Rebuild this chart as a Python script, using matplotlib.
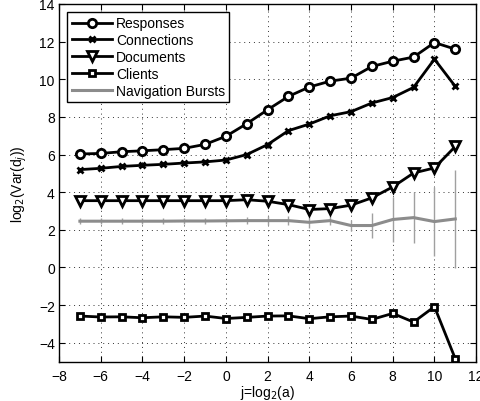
import matplotlib
matplotlib.use('Agg')
import matplotlib.pyplot as plt

plt.rcParams['font.family'] = ['Liberation Sans', 'DejaVu Sans']

# octaves j
j = list(range(-7, 12))

responses = [6.03, 6.06, 6.15, 6.2, 6.26, 6.33, 6.54, 6.97, 7.64, 8.38, 9.09,
             9.59, 9.9, 10.06, 10.68, 10.96, 11.18, 11.95, 11.6]
connections = [5.2, 5.27, 5.37, 5.43, 5.48, 5.55, 5.61, 5.71, 6.0, 6.53, 7.27,
               7.62, 8.06, 8.28, 8.74, 9.03, 9.57, 11.07, 9.62]
documents = [3.55, 3.55, 3.55, 3.55, 3.55, 3.55, 3.55, 3.55, 3.6, 3.52, 3.34,
             3.08, 3.13, 3.31, 3.7, 4.28, 5.02, 5.29, 6.43]
clients = [-2.58, -2.63, -2.62, -2.67, -2.62, -2.65, -2.58, -2.71, -2.65, -2.58,
           -2.57, -2.72, -2.62, -2.58, -2.76, -2.44, -2.9, -2.08, -4.85]
bursts = [2.46, 2.46, 2.46, 2.46, 2.46, 2.47, 2.47, 2.48, 2.49, 2.49, 2.49,
          2.4, 2.49, 2.23, 2.23, 2.55, 2.65, 2.44, 2.58]
bursts_err = [0.15, 0.15, 0.15, 0.15, 0.15, 0.15, 0.15, 0.15, 0.2, 0.25, 0.25,
              0.3, 0.25, 0.3, 0.65, 1.2, 1.35, 1.85, 2.62]

fig = plt.figure(figsize=(4.8, 4.02), dpi=100)
ax = fig.add_axes([0.123, 0.098, 0.869, 0.8896])

lw = 2.0
ax.plot(j, responses, '-o', color='k', lw=lw, ms=6, mew=2, mfc='white',
        label='Responses', zorder=4)
ax.plot(j, connections, '-x', color='k', lw=lw, ms=4.5, mew=2,
        label='Connections', zorder=4)
ax.plot(j, documents, '-v', color='k', lw=lw, ms=7, mew=2, mfc='white',
        label='Documents', zorder=4)
ax.plot(j, clients, '-s', color='k', lw=lw, ms=5, mew=2, mfc='white',
        label='Clients', zorder=4)
ax.errorbar(j, bursts, yerr=bursts_err, fmt='none', ecolor='#a0a0a0',
            elinewidth=1.0, capsize=0, zorder=2)
ax.plot(j, bursts, '-', color='#8c8c8c', lw=2.2, label='Navigation Bursts', zorder=3)

ax.set_xlim(-8, 12)
ax.set_ylim(-5, 14)
ax.set_xticks(range(-8, 13, 2))
ax.set_yticks(range(-4, 15, 2))
ax.set_xticklabels([str(v).replace('-', '\u2212') for v in range(-8, 13, 2)])
ax.set_yticklabels([str(v).replace('-', '\u2212') for v in range(-4, 15, 2)])
ax.tick_params(direction='in', labelsize=10, length=4, width=0.8,
               top=True, right=True)
ax.tick_params(axis='y', pad=3)
ax.tick_params(axis='x', pad=5)
ax.grid(True, linestyle=(0, (1, 4)), color='#333333', lw=0.7)
for s in ax.spines.values():
    s.set_linewidth(1.0)

ax.set_xlabel('j=log$_2$(a)', fontsize=10, labelpad=0)
ax.set_ylabel('log$_2$(Var(d$_j$))', fontsize=10, labelpad=7)

leg = ax.legend(loc='upper left', fontsize=10, fancybox=False, edgecolor='k',
                framealpha=1, handlelength=2.9, borderaxespad=0.6,
                labelspacing=0.2, handletextpad=0.3, borderpad=0.3)
leg.get_frame().set_linewidth(1.0)

fig.savefig('out.png', dpi=100)
